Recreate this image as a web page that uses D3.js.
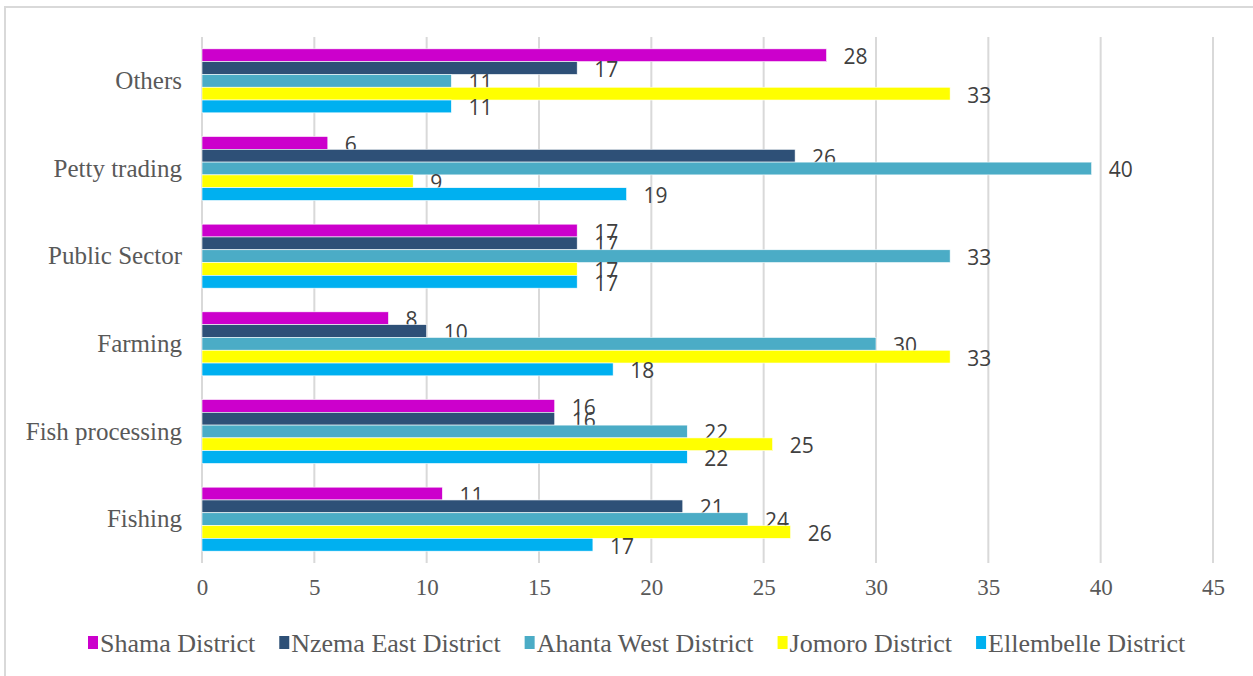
<!DOCTYPE html>
<html>
<head>
<meta charset="utf-8">
<script src="https://cdn.jsdelivr.net/npm/d3@7"></script>
<style>
  body { margin: 0; background: #fff; }
  svg { display: block; }
</style>
</head>
<body>
<script>
// occupation categories, listed top to bottom as drawn
var categories = ["Others", "Petty trading", "Public Sector", "Farming", "Fish processing", "Fishing"];

var seriesNames = ["Shama District", "Nzema East District", "Ahanta West District", "Jomoro District", "Ellembelle District"];
var seriesColors = ["#CC00CC", "#2E5077", "#4BACC6", "#FFFF00", "#00B0F0"];

// percentages per district, same order as categories
var shama      = [27.8, 5.6, 16.7, 8.3, 15.7, 10.7];
var nzemaEast  = [16.7, 26.4, 16.7, 10.0, 15.7, 21.4];
var ahantaWest = [11.1, 39.6, 33.3, 30.0, 21.6, 24.3];
var jomoro     = [33.3, 9.4, 16.7, 33.3, 25.4, 26.2];
var ellembelle = [11.1, 18.9, 16.7, 18.3, 21.6, 17.4];

var xTicks = [0, 5, 10, 15, 20, 25, 30, 35, 40, 45];

var seriesValues = [shama, nzemaEast, ahantaWest, jomoro, ellembelle];

var width = 1253, height = 676;
var plot = {left: 202, right: 1213, top: 37, bottom: 563};

var svg = d3.select("body").append("svg")
    .attr("width", width)
    .attr("height", height);

// chart frame
svg.append("rect")
    .attr("x", 5).attr("y", 7)
    .attr("width", 1260).attr("height", 690)
    .attr("fill", "none")
    .attr("stroke", "#D9D9D9")
    .attr("stroke-width", 2);

var x = d3.scaleLinear().domain([0, 45]).range([plot.left, plot.right]);

var y0 = d3.scaleBand()
    .domain(categories)
    .range([plot.top, plot.bottom])
    .paddingInner(0.27)
    .paddingOuter(0.135);

var y1 = d3.scaleBand()
    .domain(seriesNames)
    .range([0, y0.bandwidth()]);

// vertical gridlines
svg.append("g")
  .selectAll("line")
  .data(xTicks)
  .enter().append("line")
    .attr("x1", function(d) { return x(d); })
    .attr("x2", function(d) { return x(d); })
    .attr("y1", plot.top)
    .attr("y2", plot.bottom)
    .attr("stroke", "#D9D9D9")
    .attr("stroke-width", 2);

// x axis labels (no axis line)
var xAxis = svg.append("g")
    .attr("transform", "translate(0," + plot.bottom + ")")
    .call(d3.axisBottom(x).tickValues(xTicks).tickSize(0).tickPadding(16));
xAxis.select(".domain").remove();
xAxis.selectAll("text")
    .attr("fill", "#595959")
    .style("font-family", "'Liberation Serif', 'DejaVu Serif', serif")
    .style("font-size", "23px");

// category labels
var yAxis = svg.append("g")
    .attr("transform", "translate(" + (plot.left - 20) + ",0)")
    .call(d3.axisLeft(y0).tickSize(0).tickPadding(0));
yAxis.select(".domain").remove();
yAxis.selectAll("text")
    .attr("fill", "#595959")
    .attr("dy", "0.32em")
    .style("font-family", "'Liberation Serif', 'DejaVu Serif', serif")
    .style("font-size", "25px");

// bars
var groups = svg.append("g")
  .selectAll("g")
  .data(categories)
  .enter().append("g")
    .attr("transform", function(d) { return "translate(0," + y0(d) + ")"; });

var cells = groups.selectAll("g")
  .data(function(c, ci) {
    return seriesNames.map(function(s, si) {
      return {series: s, color: seriesColors[si], value: seriesValues[si][ci]};
    });
  })
  .enter().append("g");

cells.append("rect")
    .attr("x", x(0))
    .attr("y", function(d) { return y1(d.series); })
    .attr("width", function(d) { return x(d.value) - x(0); })
    .attr("height", y1.bandwidth())
    .attr("fill", function(d) { return d.color; })
    .attr("stroke", "#fff")
    .attr("stroke-width", 0.6);

// data labels
cells.append("text")
    .attr("x", function(d) { return x(d.value) + 17; })
    .attr("y", function(d) { return y1(d.series) + y1.bandwidth() / 2 + 1; })
    .attr("dominant-baseline", "central")
    .attr("fill", "#404040")
    .style("font-family", "'Open Sans', 'Liberation Sans', sans-serif")
    .style("font-size", "21px")
    .text(function(d) { return Math.round(d.value); });

// legend
var legend = svg.append("g").attr("transform", "translate(0,643)");
var lx = 88;
seriesNames.forEach(function(name, i) {
  legend.append("rect")
      .attr("x", lx).attr("y", -7)
      .attr("width", 10).attr("height", 13)
      .attr("fill", seriesColors[i]);
  var t = legend.append("text")
      .attr("x", lx + 12)
      .attr("y", 0)
      .attr("dominant-baseline", "central")
      .attr("fill", "#595959")
      .style("font-family", "'Liberation Serif', 'DejaVu Serif', serif")
      .style("font-size", "26px")
      .text(name);
  lx += 12 + t.node().getComputedTextLength() + 24;
});
</script>
</body>
</html>
